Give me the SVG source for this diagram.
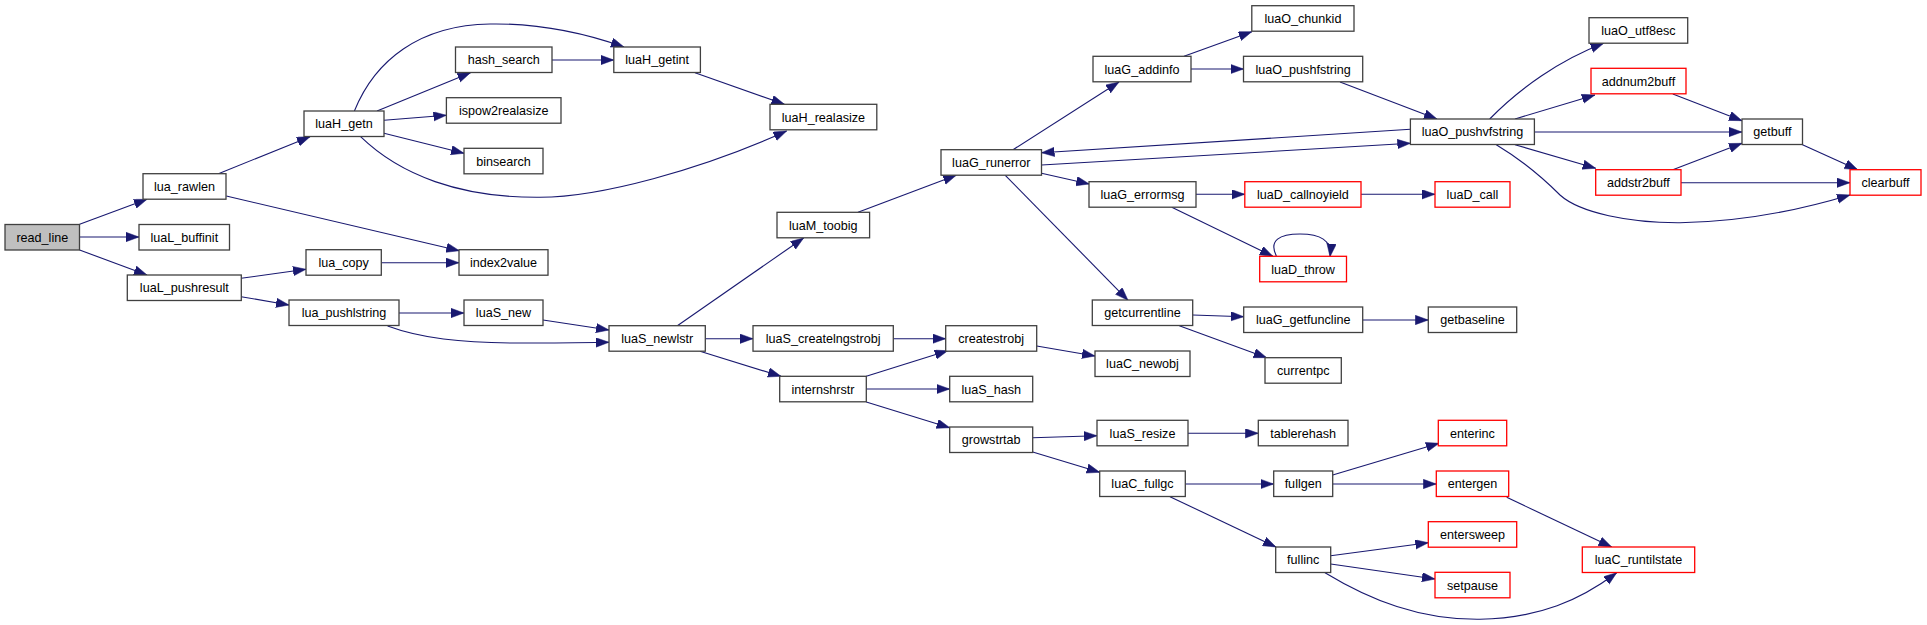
<svg xmlns="http://www.w3.org/2000/svg" width="1927" height="625" viewBox="0 0 1927 625">
<defs>
<style>
.n rect{fill:#ffffff;stroke:#404040;stroke-width:1.3}
.n.r rect{stroke:#ff0000}
.n.root rect{fill:#bfbfbf}
.n text{font-family:"Liberation Sans",Arial,Helvetica,sans-serif;font-size:12.6px;fill:#000000;text-anchor:middle}
#edges path{fill:none;stroke:#191970;stroke-width:1.1;marker-end:url(#ah)}
</style>
<marker id="ah" markerUnits="userSpaceOnUse" markerWidth="14" markerHeight="10" refX="13" refY="4.7" orient="auto">
<path d="M0,0 L13,4.7 L0,9.4 Z" fill="#191970" stroke="#191970" stroke-width="0.5"/>
</marker>
</defs>
<rect x="0" y="0" width="1927" height="625" fill="#ffffff"/>
<g id="edges">
<path d="M79.6,224.3 L147,199.3"/>
<path d="M79.6,237 L139,237"/>
<path d="M79.6,250 L147,275"/>
<path d="M218.4,173.7 L310,136.7"/>
<path d="M226.3,196 L459.3,250.7"/>
<path d="M354.4,111 C375,60 420,25 490,24 C545,23 590,35 624,47"/>
<path d="M377,111 L470.5,72.7"/>
<path d="M384,120.3 L446.4,115.3"/>
<path d="M384,133.3 L464,153.3"/>
<path d="M360.6,136.7 C400,175 460,198 540,197.3 C600,197 700,170 786.6,131"/>
<path d="M552,60 L613.8,60"/>
<path d="M695,72.7 L784.4,104.3"/>
<path d="M241.2,278.3 L306,269.3"/>
<path d="M241.2,296.7 L289,305"/>
<path d="M381.4,262.7 L459,262.7"/>
<path d="M399,313 L464,313"/>
<path d="M387.6,326 C420,338 460,343 520,343 C560,343 590,342.5 609,342.3"/>
<path d="M543,320 L609,330"/>
<path d="M677.3,325.7 L803.6,238"/>
<path d="M705.3,338.7 L753,338.7"/>
<path d="M700,351.3 L781,376.3"/>
<path d="M858,212.3 L956.2,175.3"/>
<path d="M1013,149.7 L1119,82"/>
<path d="M1041.5,165 L1410.4,143.3"/>
<path d="M1041.5,173.3 L1089.2,184"/>
<path d="M1005.3,175.3 L1128,300.3"/>
<path d="M1184,56.3 L1251.8,31.7"/>
<path d="M1191,69 L1243.5,69"/>
<path d="M1340,82 L1437,119"/>
<path d="M1410.4,129.3 L1041.5,152.7"/>
<path d="M1489.7,119 C1520,88 1560,60 1603.6,43.3"/>
<path d="M1515,119 L1594.9,95"/>
<path d="M1534.4,132 L1742,132"/>
<path d="M1515,144.7 L1595.7,168.3"/>
<path d="M1496.3,144.7 C1525,162 1545,180 1560,195 C1580,213 1630,223 1680,222.7 C1750,222 1810,207 1850,195"/>
<path d="M1672.8,94 L1742,120.7"/>
<path d="M1672.8,169.7 L1742,143.3"/>
<path d="M1681,182.7 L1850,182.7"/>
<path d="M1802.5,144.7 L1857.7,169.7"/>
<path d="M1196,194.3 L1244.8,194.3"/>
<path d="M1171.8,207.3 L1272.9,256.3"/>
<path d="M1361,194.3 L1435,194.3"/>
<path d="M1276.7,256.7 C1268,240 1280,234 1300,234 C1320,234 1332,240 1330,256.7"/>
<path d="M1192.7,315 L1243.7,316.7"/>
<path d="M1179.3,325.7 L1266.7,357.7"/>
<path d="M1362.7,320 L1428.3,320"/>
<path d="M893.3,338.7 L945.7,338.7"/>
<path d="M1036.7,346 L1095,356"/>
<path d="M866.3,376.3 L947.7,350.7"/>
<path d="M866.3,389 L949.7,389"/>
<path d="M866.3,402 L949.7,427.7"/>
<path d="M1032.7,437.7 L1097,435.7"/>
<path d="M1032.7,452 L1099.7,472.3"/>
<path d="M1188,433.3 L1258.3,433.3"/>
<path d="M1185.3,484 L1273.7,484"/>
<path d="M1170,496.7 L1276,547"/>
<path d="M1332.7,475 L1439,443.3"/>
<path d="M1332.7,484 L1436.3,484"/>
<path d="M1506.7,497.3 L1611.7,547"/>
<path d="M1330.7,555.7 L1428.3,542.7"/>
<path d="M1330.7,564 L1435,579"/>
<path d="M1325,572.7 C1370,600 1420,620 1480,619.3 C1540,618 1580,600 1616.7,572.7"/>
</g>
<g id="read_line" class="n root"><rect x="5" y="224.5" width="74.5" height="25.5"/><text x="42.3" y="241.7">read_line</text></g>
<g id="lua_rawlen" class="n"><rect x="143" y="173.7" width="83" height="25.5"/><text x="184.5" y="190.9">lua_rawlen</text></g>
<g id="luaL_buffinit" class="n"><rect x="139" y="224.5" width="90.5" height="25.5"/><text x="184.3" y="241.7">luaL_buffinit</text></g>
<g id="luaL_pushresult" class="n"><rect x="127.3" y="275" width="114" height="25.5"/><text x="184.3" y="292.2">luaL_pushresult</text></g>
<g id="luaH_getn" class="n"><rect x="304" y="111" width="80" height="25.5"/><text x="344" y="128.2">luaH_getn</text></g>
<g id="hash_search" class="n"><rect x="455.5" y="47" width="96.5" height="25.5"/><text x="503.8" y="64.2">hash_search</text></g>
<g id="ispow2realasize" class="n"><rect x="446.4" y="97.7" width="114.6" height="25.5"/><text x="503.7" y="114.9">ispow2realasize</text></g>
<g id="binsearch" class="n"><rect x="464" y="148.3" width="79" height="25.5"/><text x="503.5" y="165.5">binsearch</text></g>
<g id="index2value" class="n"><rect x="459" y="249.7" width="89" height="25.5"/><text x="503.5" y="266.9">index2value</text></g>
<g id="lua_copy" class="n"><rect x="306" y="249.7" width="75.3" height="25.5"/><text x="343.7" y="266.9">lua_copy</text></g>
<g id="lua_pushlstring" class="n"><rect x="289" y="300" width="110" height="25.5"/><text x="344" y="317.2">lua_pushlstring</text></g>
<g id="luaS_new" class="n"><rect x="464" y="300" width="79" height="25.5"/><text x="503.5" y="317.2">luaS_new</text></g>
<g id="luaH_getint" class="n"><rect x="613.8" y="47" width="86.6" height="25.5"/><text x="657.1" y="64.2">luaH_getint</text></g>
<g id="luaH_realasize" class="n"><rect x="770" y="104.3" width="106.8" height="25.5"/><text x="823.4" y="121.5">luaH_realasize</text></g>
<g id="luaG_runerror" class="n"><rect x="941" y="149.7" width="100.5" height="25.5"/><text x="991.3" y="166.9">luaG_runerror</text></g>
<g id="luaM_toobig" class="n"><rect x="777" y="212.3" width="92.6" height="25.5"/><text x="823.3" y="229.5">luaM_toobig</text></g>
<g id="luaG_addinfo" class="n"><rect x="1093" y="56.3" width="98" height="25.5"/><text x="1142" y="73.5">luaG_addinfo</text></g>
<g id="luaG_errormsg" class="n"><rect x="1089" y="181.7" width="107" height="25.5"/><text x="1142.5" y="198.9">luaG_errormsg</text></g>
<g id="getcurrentline" class="n"><rect x="1092.3" y="300" width="100.4" height="25.5"/><text x="1142.5" y="317.2">getcurrentline</text></g>
<g id="luaS_newlstr" class="n"><rect x="609" y="325.7" width="96.3" height="25.5"/><text x="657.2" y="342.9">luaS_newlstr</text></g>
<g id="luaS_createlngstrobj" class="n"><rect x="753" y="325.7" width="140.3" height="25.5"/><text x="823.2" y="342.9">luaS_createlngstrobj</text></g>
<g id="createstrobj" class="n"><rect x="945.7" y="325.7" width="91" height="25.5"/><text x="991.2" y="342.9">createstrobj</text></g>
<g id="internshrstr" class="n"><rect x="779.7" y="376.3" width="86.6" height="25.5"/><text x="823" y="393.5">internshrstr</text></g>
<g id="luaS_hash" class="n"><rect x="949.7" y="376.3" width="83" height="25.5"/><text x="991.2" y="393.5">luaS_hash</text></g>
<g id="growstrtab" class="n"><rect x="949.7" y="427" width="83" height="25.5"/><text x="991.2" y="444.2">growstrtab</text></g>
<g id="luaO_chunkid" class="n"><rect x="1251.8" y="5.7" width="102.2" height="25.5"/><text x="1302.9" y="22.9">luaO_chunkid</text></g>
<g id="luaO_pushfstring" class="n"><rect x="1243.5" y="56.3" width="119.2" height="25.5"/><text x="1303.1" y="73.5">luaO_pushfstring</text></g>
<g id="luaO_pushvfstring" class="n"><rect x="1410.4" y="119" width="124" height="25.5"/><text x="1472.4" y="136.2">luaO_pushvfstring</text></g>
<g id="luaO_utf8esc" class="n"><rect x="1589" y="17.7" width="98.7" height="25.5"/><text x="1638.4" y="34.9">luaO_utf8esc</text></g>
<g id="addnum2buff" class="n r"><rect x="1591" y="68.3" width="95" height="25.5"/><text x="1638.5" y="85.5">addnum2buff</text></g>
<g id="getbuff" class="n"><rect x="1742" y="119" width="60.5" height="25.5"/><text x="1772.3" y="136.2">getbuff</text></g>
<g id="addstr2buff" class="n r"><rect x="1595.7" y="169.7" width="85.3" height="25.5"/><text x="1638.4" y="186.9">addstr2buff</text></g>
<g id="clearbuff" class="n r"><rect x="1850" y="169.7" width="71" height="25.5"/><text x="1885.5" y="186.9">clearbuff</text></g>
<g id="luaD_callnoyield" class="n r"><rect x="1244.8" y="181.7" width="116.2" height="25.5"/><text x="1302.9" y="198.9">luaD_callnoyield</text></g>
<g id="luaD_call" class="n r"><rect x="1435" y="181.7" width="75" height="25.5"/><text x="1472.5" y="198.9">luaD_call</text></g>
<g id="luaD_throw" class="n r"><rect x="1259.7" y="256.3" width="86.8" height="25.5"/><text x="1303.1" y="273.5">luaD_throw</text></g>
<g id="luaG_getfuncline" class="n"><rect x="1243.7" y="307" width="119" height="25.5"/><text x="1303.2" y="324.2">luaG_getfuncline</text></g>
<g id="getbaseline" class="n"><rect x="1428.3" y="307" width="88.4" height="25.5"/><text x="1472.5" y="324.2">getbaseline</text></g>
<g id="luaC_newobj" class="n"><rect x="1095" y="351" width="95" height="25.5"/><text x="1142.5" y="368.2">luaC_newobj</text></g>
<g id="currentpc" class="n"><rect x="1265" y="357.7" width="76.3" height="25.5"/><text x="1303.2" y="374.9">currentpc</text></g>
<g id="luaS_resize" class="n"><rect x="1097" y="420.3" width="91" height="25.5"/><text x="1142.5" y="437.5">luaS_resize</text></g>
<g id="tablerehash" class="n"><rect x="1258.3" y="420.3" width="89.7" height="25.5"/><text x="1303.2" y="437.5">tablerehash</text></g>
<g id="enterinc" class="n r"><rect x="1438.3" y="420.3" width="68.4" height="25.5"/><text x="1472.5" y="437.5">enterinc</text></g>
<g id="luaC_fullgc" class="n"><rect x="1099.7" y="471" width="85.6" height="25.5"/><text x="1142.5" y="488.2">luaC_fullgc</text></g>
<g id="fullgen" class="n"><rect x="1273.7" y="471" width="59" height="25.5"/><text x="1303.2" y="488.2">fullgen</text></g>
<g id="entergen" class="n r"><rect x="1436.3" y="471" width="72.4" height="25.5"/><text x="1472.5" y="488.2">entergen</text></g>
<g id="entersweep" class="n r"><rect x="1428.3" y="521.7" width="88.4" height="25.5"/><text x="1472.5" y="538.9">entersweep</text></g>
<g id="fullinc" class="n"><rect x="1275.7" y="547" width="55" height="25.5"/><text x="1303.2" y="564.2">fullinc</text></g>
<g id="setpause" class="n r"><rect x="1435" y="572.3" width="75" height="25.5"/><text x="1472.5" y="589.5">setpause</text></g>
<g id="luaC_runtilstate" class="n r"><rect x="1582.3" y="547" width="112.4" height="25.5"/><text x="1638.5" y="564.2">luaC_runtilstate</text></g>
</svg>
